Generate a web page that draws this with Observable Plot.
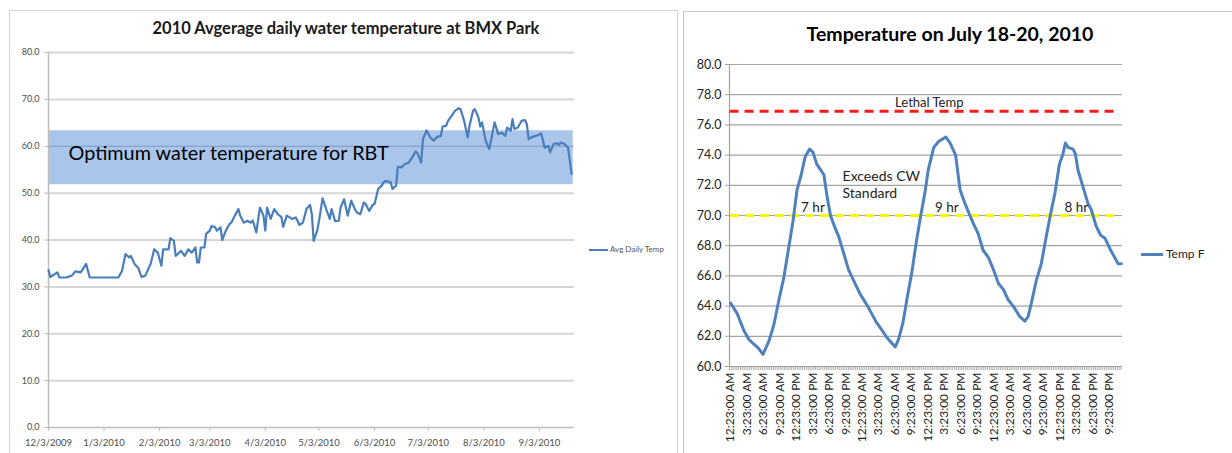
<!DOCTYPE html>
<html><head><meta charset="utf-8">
<script src="https://cdn.jsdelivr.net/npm/d3@7"></script>
<script src="https://cdn.jsdelivr.net/npm/@observablehq/plot@0.6"></script>
<style>
body{margin:0;background:#fff;}
#wrap{position:relative;width:1232px;height:453px;overflow:hidden;font-family:Lato,"Open Sans",sans-serif;color:#000;}
.abs{position:absolute;white-space:nowrap;}
</style></head><body><div id="wrap"></div>
<script>
// ---------- Left chart data ----------
const avgTitle = "2010 Avgerage daily water temperature at BMX Park";
const avgStart = "2009-12-03";
const avgDay = [0,1,5,6,10,13,15,18,21,23,29,39,41,43,45,46,48,50,52,54,57,59,61,63,64,67,68,70,71,74,76,78,80,82,83,84,85,87,88,90,91,93,94,96,97,99,101,102,104,106,107,109,111,113,114,116,118,120,121,122,124,126,128,130,131,133,136,138,139,140,142,144,146,147,148,150,151,153,155,157,158,160,162,163,165,167,169,171,172,174,176,177,179,181,182,184,186,187,188,191,192,194,195,197,199,201,203,205,206,208,209,211,213,215,217,219,220,222,223,225,227,229,230,232,234,235,237,238,240,241,242,244,246,247,249,251,253,255,256,258,259,260,262,264,266,267,268,270,272,275,276,277,279,280,282,284,285,286,288,290,292];
const avgTemp = [33.6,32.1,33.1,32.0,32.0,32.4,33.3,33.1,34.9,32.0,32.0,32.0,33.4,37.0,36.3,36.6,34.9,34.1,32.1,32.4,34.9,38.0,37.3,34.5,38.0,38.0,40.4,39.8,36.6,37.7,36.6,38.0,37.3,38.4,35.2,35.2,38.4,38.4,41.3,42.0,43.0,42.7,42.0,42.7,40.0,42.0,43.4,43.7,45.2,46.6,45.2,43.7,44.1,43.7,44.2,41.6,46.9,45.2,42.0,46.9,44.5,46.6,45.5,44.9,42.8,45.2,44.5,44.8,44.1,43.2,43.7,46.6,47.5,45.5,39.8,42.0,44.1,48.9,46.6,44.5,46.6,44.0,44.1,46.9,48.7,45.2,48.4,46.6,45.9,45.5,48.0,47.7,46.2,47.5,47.7,50.9,51.6,52.3,52.6,52.3,50.9,51.6,55.6,55.5,56.2,56.5,57.6,58.9,58.5,56.5,61.5,63.4,61.9,61.2,62.0,62.2,64.2,64.4,65.4,66.5,67.6,68.1,67.9,65.4,61.9,64.4,67.6,67.9,66.1,64.2,65.1,61.2,59.4,61.2,65.1,62.6,62.9,62.2,64.0,63.3,65.8,63.7,64.0,65.4,65.6,64.7,61.5,62.0,62.2,62.7,61.2,59.7,60.1,58.7,60.5,60.6,60.3,60.8,60.5,59.7,54.1];
const avgTickDates = ["2009-12-03","2010-01-03","2010-02-03","2010-03-03","2010-04-03","2010-05-03","2010-06-03","2010-07-03","2010-08-03","2010-09-03"];
const avgTickLabels = ["12/3/2009","1/3/2010","2/3/2010","3/3/2010","4/3/2010","5/3/2010","6/3/2010","7/3/2010","8/3/2010","9/3/2010"];
const avgYTicks = [0,10,20,30,40,50,60,70,80];
const optimumBand = [51.8, 63.3];
const optimumLabel = "Optimum water temperature for RBT";
const avgLegend = "Avg Daily Temp";

// ---------- Right chart data ----------
const tempTitle = "Temperature on July 18-20, 2010";
const tempHours = [0.2,1.4,2.6,3.5,5.3,6.1,7.2,8.1,9.0,9.9,10.8,11.6,12.3,13.0,13.8,14.6,15.2,15.9,17.2,17.8,18.4,19.0,19.9,20.8,21.7,22.6,23.8,25.0,25.9,26.8,27.8,28.7,30.2,30.8,31.6,32.3,33.2,34.1,34.7,35.6,36.2,37.2,38.1,39.4,40.2,41.2,42.0,42.9,43.8,44.4,45.3,46.2,47.2,48.1,49.0,49.9,50.8,51.7,52.9,53.8,54.4,55.0,55.9,56.8,57.8,58.5,59.3,60.1,60.7,61.2,61.7,62.6,63.0,63.5,64.4,65.3,65.9,66.8,67.6,68.4,69.3,70.2,70.8,71.4];
const tempF = [64.2,63.5,62.4,61.8,61.2,60.8,61.7,62.8,64.4,65.9,67.9,69.7,71.7,72.6,73.9,74.4,74.2,73.4,72.7,71.2,70.0,69.4,68.6,67.5,66.4,65.7,64.8,64.1,63.5,62.9,62.4,61.9,61.3,61.8,62.9,64.4,66.2,68.4,69.7,71.5,73.0,74.5,74.9,75.2,74.8,74.0,71.7,70.8,70.0,69.5,68.8,67.7,67.2,66.4,65.5,65.1,64.4,64.0,63.3,63.0,63.3,64.2,65.7,66.8,68.8,70.1,71.5,73.4,74.0,74.8,74.5,74.4,74.1,73.0,71.9,70.8,70.4,69.3,68.7,68.5,67.8,67.2,66.8,66.8];
const hourTickLabels = ["12:23:00 AM","3:23:00 AM","6:23:00 AM","9:23:00 AM","12:23:00 PM","3:23:00 PM","6:23:00 PM","9:23:00 PM","12:23:00 AM","3:23:00 AM","6:23:00 AM","9:23:00 AM","12:23:00 PM","3:23:00 PM","6:23:00 PM","9:23:00 PM","12:23:00 AM","3:23:00 AM","6:23:00 AM","9:23:00 AM","12:23:00 PM","3:23:00 PM","6:23:00 PM","9:23:00 PM"];
const tempYTicks = [60,62,64,66,68,70,72,74,76,78,80];
const lethalTemp = 76.9;
const lethalLabel = "Lethal Temp";
const cwStandard = 70.0;
const cwLabel = ["Exceeds CW", "Standard"];
const exceedLabels = ["7 hr", "9 hr", "8 hr"];
const exceedLabelHours = [15.2, 39.6, 63.2];
const tempLegend = "Temp F";

// ---------- Build ----------
const wrap = document.getElementById("wrap");
const FONT = "Lato, 'Open Sans', sans-serif";

function addDiv(css, text) {
  const d = document.createElement("div");
  d.className = "abs";
  d.style.cssText = css;
  if (text != null) d.textContent = text;
  wrap.appendChild(d);
  return d;
}

// frames
addDiv("left:9px;top:10px;width:667px;height:470px;border:1px solid #d4d4d4;");
addDiv("left:683px;top:11px;width:560px;height:470px;border:1px solid #c4c4c4;");

// ----- left chart -----
const parse = d3.utcParse("%Y-%m-%d");
const start = parse(avgStart);
const avgData = avgDay.map((d, i) => ({date: d3.utcDay.offset(start, d), temp: avgTemp[i]}));
const xEnd = new Date(+start + 293.6 * 864e5);
const tickDates = avgTickDates.map(parse);
const tickLabelMap = new Map(tickDates.map((d, i) => [+d, avgTickLabels[i]]));
const bandRect = [{x1: new Date(+start + 0.6 * 864e5), x2: new Date(+start + 292.9 * 864e5), y1: optimumBand[0], y2: optimumBand[1]}];

const left = Plot.plot({
  width: 600, height: 453,
  marginLeft: 48, marginRight: 26, marginTop: 52, marginBottom: 26,
  style: {background: "transparent", overflow: "visible", fontFamily: FONT},
  x: {type: "utc", domain: [start, xEnd], label: null},
  y: {domain: [0, 80], label: null},
  marks: [
    Plot.ruleY(avgYTicks.filter(v => v > 0), {stroke: "#d6d6d6", strokeWidth: 2}),
    Plot.rect(bandRect, {x1: "x1", x2: "x2", y1: "y1", y2: "y2", fill: "#a9c5ea"}),
    Plot.ruleY(bandRect, {y: () => 60, x1: "x1", x2: "x2", stroke: "#7f99c2", strokeWidth: 1}),
    Plot.ruleX([start], {stroke: "#bdbdbd", strokeWidth: 1.5}),
    Plot.ruleY([0], {stroke: "#bdbdbd", strokeWidth: 1.5}),
    Plot.line(avgData, {x: "date", y: "temp", stroke: "#4a7ebb", strokeWidth: 2.2, curve: "linear"}),
    Plot.text([optimumLabel], {x: () => new Date(+start + 11.2 * 864e5), y: () => 58.4, text: d => d, textAnchor: "start", fontSize: 19.8, fill: "#000", fontFamily: FONT}),
    Plot.axisY({ticks: avgYTicks, tickFormat: d => d.toFixed(1), tickSize: 4, tickPadding: 5, fontSize: 9, stroke: "#bdbdbd", fill: "#4d4d4d", label: null}),
    Plot.axisX({ticks: tickDates, tickFormat: d => tickLabelMap.get(+d), tickSize: 4, tickPadding: 8, fontSize: 9.5, stroke: "#bdbdbd", fill: "#4d4d4d", label: null})
  ]
});
left.style.position = "absolute"; left.style.left = "0px"; left.style.top = "0px";
wrap.appendChild(left);

addDiv(`left:0px;top:18px;width:692px;text-align:center;font:bold 16.5px ${FONT};color:#1a1a1a;`, avgTitle);
addDiv("left:589px;top:249px;width:19px;height:2px;background:#4a7ebb;");
addDiv(`left:610px;top:244px;font:8px ${FONT};color:#555;`, avgLegend);

// ----- right chart -----
const tempData = tempHours.map((h, i) => ({h, t: tempF[i]}));
const labelHours = hourTickLabels.map((_, i) => 3 * i + 1 / 6);
const hourLabelMap = new Map(labelHours.map((h, i) => [h, hourTickLabels[i]]));
const minorTicks = d3.range(0, 215).map(k => k / 3);

const right = Plot.plot({
  width: 549, height: 453,
  marginLeft: 46, marginRight: 110, marginTop: 64, marginBottom: 87,
  style: {background: "transparent", overflow: "visible", fontFamily: FONT},
  x: {domain: [0, 71.6], label: null},
  y: {domain: [60, 80], label: null},
  marks: [
    Plot.ruleY(tempYTicks.filter(v => v > 60), {stroke: "#a3a3a3", strokeWidth: 1.2}),
    Plot.ruleX([0], {stroke: "#a3a3a3", strokeWidth: 1.2}),
    Plot.ruleY([60], {stroke: "#a3a3a3", strokeWidth: 1.2}),
    Plot.ruleX(minorTicks, {x: d => d, y1: () => 60, y2: () => 59.73, stroke: "#9a9a9a", strokeWidth: 0.8}),
    Plot.ruleY([lethalTemp], {y: d => d, x1: () => 0.1, x2: () => 70.6, stroke: "#ff1a1a", strokeWidth: 3, strokeDasharray: "9,6"}),
    Plot.ruleY([cwStandard], {y: d => d, x1: () => 0.2, x2: () => 71.2, stroke: "#f7f700", strokeWidth: 3, strokeDasharray: "9,6"}),
    Plot.line(tempData, {x: "h", y: "t", stroke: "#4f81bd", strokeWidth: 3, curve: "linear"}),
    Plot.text([lethalLabel], {x: () => 36.4, y: () => 77.45, text: d => d, fontSize: 13, fill: "#222", fontFamily: FONT}),
    Plot.text(cwLabel, {x: () => 20.6, y: (d, i) => [72.6, 71.45][i], text: d => d, textAnchor: "start", fontSize: 14, fill: "#222", fontFamily: FONT}),
    Plot.text(exceedLabels, {x: (d, i) => exceedLabelHours[i], y: () => 70.55, text: d => d, fontSize: 13.5, fill: "#222", fontFamily: FONT}),
    Plot.axisY({ticks: tempYTicks, tickFormat: d => d.toFixed(1), tickSize: 4, tickPadding: 4, fontSize: 12.5, stroke: "#a3a3a3", fill: "#222", label: null}),
    Plot.axisX({ticks: labelHours, tickFormat: d => hourLabelMap.get(d), tickRotate: -90, tickSize: 0, tickPadding: 6, fontSize: 12, fill: "#222", label: null})
  ]
});
right.style.position = "absolute"; right.style.left = "683px"; right.style.top = "0px";
wrap.appendChild(right);

addDiv(`left:683px;top:22px;width:534px;text-align:center;font:bold 19.5px ${FONT};color:#000;`, tempTitle);
addDiv("left:1141px;top:253px;width:22px;height:3px;background:#4f81bd;");
addDiv(`left:1166px;top:246px;font:12px ${FONT};color:#222;`, tempLegend);
</script></body></html>
